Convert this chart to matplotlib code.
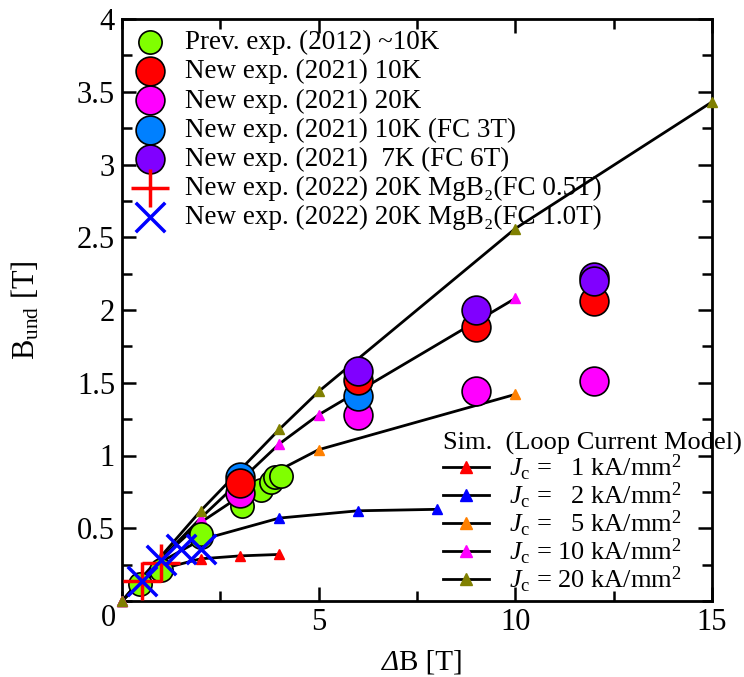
import numpy as np
import matplotlib
matplotlib.use("Agg")
import matplotlib.pyplot as plt
from matplotlib.ticker import MultipleLocator

plt.rcParams['font.family'] = ['Liberation Serif', 'DejaVu Serif']
plt.rcParams['mathtext.fontset'] = 'custom'
plt.rcParams['mathtext.rm'] = 'Liberation Serif'
plt.rcParams['mathtext.it'] = 'Liberation Serif:italic'

# simulation (loop current model)
sim_x1 = [0, 0.5, 1, 2, 3, 4]
sim_y1 = [0, 0.13, 0.22, 0.29, 0.31, 0.32]
sim_x2 = [0, 0.5, 1, 2, 4, 6, 8]
sim_y2 = [0, 0.14, 0.27, 0.42, 0.57, 0.62, 0.63]
sim_x5 = [0, 0.5, 1, 2, 4, 5, 10]
sim_y5 = [0, 0.15, 0.29, 0.54, 0.90, 1.04, 1.42]
sim_x10 = [0, 0.5, 1, 2, 4, 5, 10]
sim_y10 = [0, 0.15, 0.29, 0.57, 1.08, 1.28, 2.08]
sim_x20 = [0, 0.5, 1, 2, 4, 5, 10, 15]
sim_y20 = [0, 0.16, 0.31, 0.62, 1.18, 1.44, 2.56, 3.43]

# experiments
prev_x = [0.46, 1.0, 2.0, 2.02, 3.04, 3.54, 3.8, 3.9, 4.05]
prev_y = [0.12, 0.21, 0.44, 0.46, 0.65, 0.76, 0.82, 0.85, 0.86]
new10_x = [3, 6, 9, 12]
new10_y = [0.81, 1.52, 1.88, 2.06]
new20_x = [3, 6, 9, 12]
new20_y = [0.74, 1.28, 1.44, 1.51]
fc3_x = [3, 6]
fc3_y = [0.85, 1.41]
fc6_x = [6, 9, 12, 12]
fc6_y = [1.58, 2.00, 2.23, 2.20]
mgb05_x = [0.5, 1.0]
mgb05_y = [0.14, 0.26]
mgb10_x = [0.5, 1.0, 1.5, 2.0]
mgb10_y = [0.14, 0.28, 0.36, 0.36]

fig = plt.figure(figsize=(7.44, 6.77), dpi=100)
ax = fig.add_axes([122/744, 76/677, 590/744, 582/677])

sim = [(sim_x1, sim_y1, '#ff0000', '1'), (sim_x2, sim_y2, '#0000ff', '2'),
       (sim_x5, sim_y5, '#ff8000', '5'), (sim_x10, sim_y10, '#ff00ff', '10'),
       (sim_x20, sim_y20, '#808000', '20')]
sim_handles = []
for sx, sy, c, jc in sim:
    ax.plot(sx, sy, color='black', lw=2, zorder=2)
    ax.plot(sx, sy, ls='none', marker='^', ms=7, color=c, mec=c, zorder=3, clip_on=False)
    h, = ax.plot([], [], color='black', lw=2, marker='^', ms=8, mfc=c, mec=c)
    pad = '  ' if len(jc) == 1 else ''
    sim_handles.append((h, r'$J_\mathrm{c}$ = ' + pad + jc + r' kA/mm$^2$'))

exp_handles = []
h = ax.scatter(prev_x, prev_y, s=280, c='#80ff00', edgecolors='black', lw=1.2, zorder=4)
exp_handles.append((h, 'Prev. exp. (2012) ~10K'))
for ex, ey, c, lab in [(new20_x, new20_y, '#ff00ff', 'New exp. (2021) 20K'),
                       (fc3_x, fc3_y, '#0080ff', 'New exp. (2021) 10K (FC 3T)'),
                       (new10_x, new10_y, '#ff0000', 'New exp. (2021) 10K'),
                       (fc6_x, fc6_y, '#8000ff', 'New exp. (2021)  7K (FC 6T)')]:
    h = ax.scatter(ex, ey, s=430, c=c, edgecolors='black', lw=1.2, zorder=5)
    exp_handles.append((h, lab))
h = ax.scatter(mgb05_x, mgb05_y, s=750, marker='+', c='#ff0000', lw=2.5, zorder=6)
exp_handles.append((h, 'New exp. (2022) 20K MgB\u2082(FC 0.5T)'))
h = ax.scatter(mgb10_x, mgb10_y, s=450, marker='x', c='#0000ff', lw=2.5, zorder=7)
exp_handles.append((h, 'New exp. (2022) 20K MgB\u2082(FC 1.0T)'))

order = [0, 3, 1, 2, 4, 5, 6]
exp_handles = [exp_handles[i] for i in order]

ax.set_xlim(0, 15)
ax.set_ylim(0, 4)
ax.xaxis.set_minor_locator(MultipleLocator(2.5))
ax.yaxis.set_minor_locator(MultipleLocator(0.25))
ax.set_xticks([5, 10, 15])
ax.set_xticklabels(['5', '10', '15'])
ax.set_yticks([0.5, 1, 1.5, 2, 2.5, 3, 3.5, 4])
ax.set_yticklabels(['0.5', '1', '1.5', '2', '2.5', '3', '3.5', '4'])
fig.text(108/744, 1 - 618/677, '0', fontsize=22, ha='center', va='center')
ax.tick_params(which='both', direction='in', top=True, right=True, width=1.8, labelsize=22)
ax.tick_params(which='major', length=10, pad=5)
ax.tick_params(which='minor', length=7)
for s in ax.spines.values():
    s.set_linewidth(2)

# x label: italic delta + upright text
fig.text(399/744, 1 - 663/677, '\u0394', fontsize=21, style='italic', ha='right', va='center')
fig.text(399/744, 1 - 663/677, 'B [T]', fontsize=21, ha='left', va='center')
ax.set_ylabel(r'B$_{\mathrm{und}}$ [T]', fontsize=22)
ax.yaxis.set_label_coords(-(122 - 26) / 590, 0.5, transform=ax.transAxes)
ax.yaxis.label.set_va('center')

leg1 = ax.legend([h for h, _ in exp_handles], [l for _, l in exp_handles],
                 loc='upper left', bbox_to_anchor=(128/744, 1 - 30/677), bbox_transform=fig.transFigure,
                 frameon=False, fontsize=19.5, handletextpad=0.5, labelspacing=0.15,
                 borderpad=0, borderaxespad=0, scatterpoints=1, handlelength=1.6)
ax.add_artist(leg1)
leg2 = ax.legend([h for h, _ in sim_handles], [l for _, l in sim_handles],
                 loc='upper left', bbox_to_anchor=(443/744, 1 - 432/677), bbox_transform=fig.transFigure,
                 frameon=False, fontsize=19, title='Sim.  (Loop Current Model)',
                 title_fontsize=19, alignment='left', handlelength=1.75,
                 handletextpad=0.75, labelspacing=-0.08, borderpad=0.0, borderaxespad=0)
leg2.set_zorder(10)

fig.savefig('out.png', dpi=100)
